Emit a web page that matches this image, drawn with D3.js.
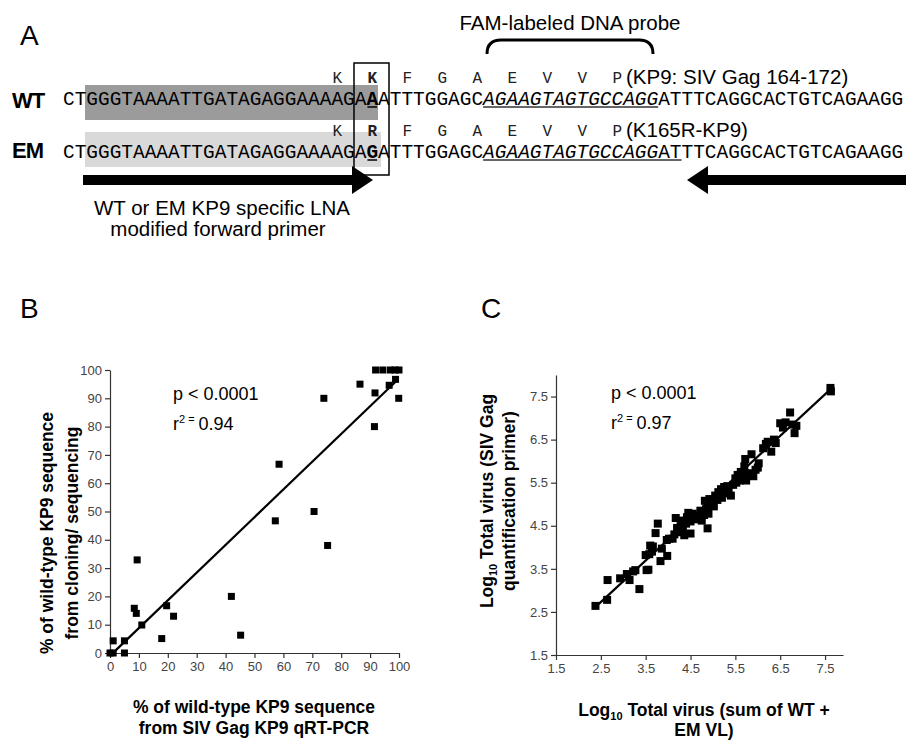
<!DOCTYPE html>
<html>
<head>
<meta charset="utf-8">
<script src="https://cdn.jsdelivr.net/npm/d3@7"></script>
<style>
  body { margin: 0; background: #fff; }
  svg { display: block; }
  text { font-family: "Liberation Sans", Arial, sans-serif; }
  .mono { font-family: "Liberation Mono", "Courier New", monospace; }
  .axis text { font-family: "Liberation Sans", Arial, sans-serif; font-size: 13px; fill: #444; }
  .axis path, .axis line { stroke: #333; stroke-width: 1.2; }
</style>
</head>
<body>
<script>
// ---- panel A sequences
const wtSeq = "CTGGGTAAAATTGATAGAGGAAAAGAAATTTGGAGCAGAAGTAGTGCCAGGATTTCAGGCACTGTCAGAAGG";
const emSeq = "CTGGGTAAAATTGATAGAGGAAAAGAGATTTGGAGCAGAAGTAGTGCCAGGATTTCAGGCACTGTCAGAAGG";
const wtAA = ["K", "K", "F", "G", "A", "E", "V", "V", "P"];
const emAA = ["K", "R", "F", "G", "A", "E", "V", "V", "P"];
const aaIdx = [23, 26, 29, 32, 35, 38, 41, 44, 47];

// ---- panel B: % WT by qRT-PCR (x) vs cloning/sequencing (y)
const bX = [0, 1.1, 1.1, 5, 5, 8.4, 9.1, 9.4, 11, 17.9, 19.6, 22, 42, 45.2, 57.2, 58.5, 70.6, 74, 75.3,
            86.5, 91.5, 91.7, 91.9, 94.4, 96.6, 97, 98.8, 98.6, 100, 99.9];
const bY = [0, 0, 4.3, 4.3, 0, 15.8, 14, 32.9, 9.9, 5.1, 16.7, 13, 20, 6.3, 46.7, 66.7, 50, 90, 38,
            95, 80, 91.9, 100, 100, 94.6, 100, 96.7, 100, 100, 90];
const bFit = [[1.5, 0.5], [99, 96]];
const bTicks = [0, 10, 20, 30, 40, 50, 60, 70, 80, 90, 100];

// ---- panel C: log10 total virus, sum of WT+EM (x) vs SIV Gag primer (y)
const cX = [2.38, 2.64, 2.65, 2.93, 3.08, 3.14, 3.22, 3.27, 3.36, 3.52, 3.56, 3.5, 3.58, 3.6, 3.66, 3.64,
            3.72, 3.77, 3.83, 3.98, 3.86, 3.97, 4.02, 4.1, 4.14, 4.17, 4.2, 4.25, 4.28, 4.3, 4.33, 4.36,
            4.4, 4.42, 4.45, 4.5, 4.5, 4.55, 4.58, 4.62, 4.68, 4.72, 4.75, 4.8, 4.82, 4.85, 4.88, 4.9,
            4.92, 4.95, 5.0, 5.02, 5.05, 5.1, 5.12, 5.18, 5.2, 5.25, 5.28, 5.32, 5.35, 5.4, 5.45, 5.5,
            5.52, 5.55, 5.6, 5.62, 5.68, 5.7, 5.72, 5.74, 5.78, 5.82, 5.86, 5.9, 5.95, 6.0, 6.02, 6.12,
            6.18, 6.22, 6.3, 6.36, 6.4, 6.5, 6.56, 6.62, 6.72, 6.78, 6.82, 6.86, 7.62, 7.63];
const cY = [2.64, 2.78, 3.24, 3.28, 3.38, 3.24, 3.44, 3.47, 3.03, 3.47, 3.48, 3.82, 3.84, 4.04, 4.02, 3.9,
            4.33, 4.55, 3.68, 3.8, 3.97, 4.17, 4.2, 4.2, 4.3, 4.68, 4.45, 4.35, 4.52, 4.62, 4.4, 4.28,
            4.55, 4.7, 4.8, 4.6, 4.32, 4.78, 4.65, 4.72, 4.7, 4.85, 4.62, 4.75, 5.08, 4.9, 4.44, 4.78,
            5.12, 5.0, 5.08, 4.95, 5.2, 5.1, 5.28, 5.35, 5.15, 5.4, 5.25, 5.42, 5.32, 5.2, 5.45, 5.6,
            5.5, 5.68, 5.55, 5.75, 5.6, 5.88, 6.05, 5.55, 5.72, 5.68, 6.16, 5.65, 5.8, 5.85, 5.95, 6.3,
            6.4, 6.45, 6.22, 6.5, 6.42, 6.88, 6.78, 6.9, 7.13, 6.85, 6.65, 6.82, 7.7, 7.62];
const cFit = [[2.45, 2.68], [7.6, 7.65]];
const cTicks = [1.5, 2.5, 3.5, 4.5, 5.5, 6.5, 7.5];

const width = 906, height = 742;
const svg = d3.select("body").append("svg")
    .attr("width", width)
    .attr("height", height);

// ================= Panel A =================
svg.append("text").attr("x", 20).attr("y", 45).attr("font-size", 28).text("A");

const seqX0 = 63, charW = 11.67;
const cx = (i) => seqX0 + i * charW + charW / 2;

// highlighted primer region
svg.append("rect").attr("x", 85).attr("y", 85).attr("width", 293).attr("height", 35).attr("fill", "#9b9b9b");
svg.append("rect").attr("x", 85).attr("y", 132).attr("width", 296).attr("height", 35).attr("fill", "#d9d9d9");

// brace + probe label
svg.append("path")
    .attr("d", "M487,54 Q487,40 501,40 L639,40 Q653,40 653,54")
    .attr("fill", "none").attr("stroke", "#000").attr("stroke-width", 3);
svg.append("text").attr("x", 570).attr("y", 30).attr("text-anchor", "middle")
    .attr("font-size", 20.5).text("FAM-labeled DNA probe");

function drawSeq(seq, baseline, ulEnd) {
    const g = svg.append("g");
    g.selectAll("text").data(seq.split(""))
        .enter().append("text")
        .attr("class", "mono")
        .attr("x", (d, i) => cx(i))
        .attr("y", baseline)
        .attr("text-anchor", "middle")
        .attr("font-size", 19.45)
        .attr("font-weight", (d, i) => i === 26 ? "bold" : "normal")
        .attr("font-style", (d, i) => (i >= 36 && i <= 50) ? "italic" : "normal")
        .text((d) => d);
    // probe underline
    g.append("line")
        .attr("x1", seqX0 + 36 * charW).attr("x2", seqX0 + (ulEnd + 1) * charW)
        .attr("y1", baseline + 2).attr("y2", baseline + 2)
        .attr("stroke", "#333").attr("stroke-width", 1.3);
    // mutated base underline
    g.append("line")
        .attr("x1", seqX0 + 26 * charW + 1).attr("x2", seqX0 + 27 * charW - 1)
        .attr("y1", baseline + 2).attr("y2", baseline + 2)
        .attr("stroke", "#000").attr("stroke-width", 1.5);
}

function drawAA(aa, baseline, note) {
    svg.selectAll(null).data(aa)
        .enter().append("text")
        .attr("class", "mono")
        .attr("x", (d, i) => cx(aaIdx[i]))
        .attr("y", baseline)
        .attr("text-anchor", "middle")
        .attr("font-size", 16)
        .attr("fill", "#222")
        .attr("font-weight", (d, i) => aaIdx[i] === 26 ? "bold" : "normal")
        .text((d) => d);
    svg.append("text").attr("x", 626).attr("y", baseline + 1)
        .attr("font-size", 20.5).text(note);
}

drawAA(wtAA, 83, "(KP9: SIV Gag 164-172)");
drawSeq(wtSeq, 105, 50);
drawAA(emAA, 136, "(K165R-KP9)");
drawSeq(emSeq, 158, 52);

svg.append("text").attr("x", 12).attr("y", 108).attr("font-size", 22).attr("font-weight", "bold")
    .attr("letter-spacing", -1).text("WT");
svg.append("text").attr("x", 12).attr("y", 158).attr("font-size", 22).attr("font-weight", "bold")
    .attr("letter-spacing", -1).text("EM");

// box around mutated codon position
svg.append("rect").attr("x", 354).attr("y", 63).attr("width", 35).attr("height", 112)
    .attr("fill", "none").attr("stroke", "#000").attr("stroke-width", 1.5);

// primers
svg.append("line").attr("x1", 83).attr("x2", 356).attr("y1", 180).attr("y2", 180)
    .attr("stroke", "#000").attr("stroke-width", 10);
svg.append("path").attr("d", "M352,166 L373,180 L352,194 Z").attr("fill", "#000");
svg.append("line").attr("x1", 703).attr("x2", 906).attr("y1", 180).attr("y2", 180)
    .attr("stroke", "#000").attr("stroke-width", 10);
svg.append("path").attr("d", "M708,166 L687,180 L708,194 Z").attr("fill", "#000");

svg.append("text").attr("x", 222).attr("y", 215).attr("text-anchor", "middle")
    .attr("font-size", 20.5).text("WT or EM KP9 specific LNA");
svg.append("text").attr("x", 218).attr("y", 236).attr("text-anchor", "middle")
    .attr("font-size", 20.5).text("modified forward primer");

// ================= Panel B =================
svg.append("text").attr("x", 20).attr("y", 318).attr("font-size", 28).text("B");

const xB = d3.scaleLinear().domain([0, 100]).range([110, 399]);
const yB = d3.scaleLinear().domain([0, 100]).range([653, 370]);

svg.append("g").attr("class", "axis").attr("transform", "translate(0,653)")
    .call(d3.axisBottom(xB).tickValues(bTicks).tickSize(5).tickSizeOuter(0).tickPadding(4));
svg.append("g").attr("class", "axis").attr("transform", "translate(110,0)")
    .call(d3.axisLeft(yB).tickValues(bTicks).tickSize(5).tickSizeOuter(0).tickPadding(3));

svg.append("line")
    .attr("x1", xB(bFit[0][0])).attr("y1", yB(bFit[0][1]))
    .attr("x2", xB(bFit[1][0])).attr("y2", yB(bFit[1][1]))
    .attr("stroke", "#000").attr("stroke-width", 2.2);

svg.append("g").selectAll("rect").data(d3.range(bX.length))
    .enter().append("rect")
    .attr("x", (i) => xB(bX[i]) - 3.5)
    .attr("y", (i) => yB(bY[i]) - 3.5)
    .attr("width", 7).attr("height", 7)
    .attr("fill", "#000");

function statText(x, y, r2) {
    svg.append("text").attr("x", x).attr("y", y).attr("font-size", 18).text("p < 0.0001");
    const t = svg.append("text").attr("x", x).attr("y", y + 30).attr("font-size", 18);
    t.append("tspan").text("r");
    t.append("tspan").attr("font-size", 11).attr("dy", -7).text("2");
    t.append("tspan").attr("font-size", 11).attr("dx", 3).text("=");
    t.append("tspan").attr("dy", 7).attr("dx", 4).text(r2);
}
statText(173, 400, "0.94");

const bYLab = svg.append("text").attr("transform", "translate(53,533) rotate(-90)")
    .attr("text-anchor", "middle").attr("font-size", 17.5).attr("font-weight", "bold");
bYLab.append("tspan").attr("x", 0).attr("y", 0).text("% of wild-type KP9 sequence");
bYLab.append("tspan").attr("x", 0).attr("y", 25).text("from cloning/ sequencing");

svg.append("text").attr("x", 254).attr("y", 713).attr("text-anchor", "middle")
    .attr("font-size", 17.5).attr("font-weight", "bold").text("% of wild-type KP9 sequence");
svg.append("text").attr("x", 254).attr("y", 734).attr("text-anchor", "middle")
    .attr("font-size", 17.5).attr("font-weight", "bold").text("from SIV Gag KP9 qRT-PCR");

// ================= Panel C =================
svg.append("text").attr("x", 481).attr("y", 318).attr("font-size", 28).text("C");

const xC = d3.scaleLinear().domain([1.5, 7.9]).range([556, 843]);
const yC = d3.scaleLinear().domain([1.5, 8.0]).range([655, 375]);

svg.append("g").attr("class", "axis").attr("transform", "translate(0,655)")
    .call(d3.axisBottom(xC).tickValues(cTicks).tickFormat(d3.format(".1f")).tickSize(5).tickSizeOuter(0).tickPadding(4));
svg.append("g").attr("class", "axis").attr("transform", "translate(556,0)")
    .call(d3.axisLeft(yC).tickValues(cTicks).tickFormat(d3.format(".1f")).tickSize(5).tickSizeOuter(0).tickPadding(3));

svg.append("line")
    .attr("x1", xC(cFit[0][0])).attr("y1", yC(cFit[0][1]))
    .attr("x2", xC(cFit[1][0])).attr("y2", yC(cFit[1][1]))
    .attr("stroke", "#000").attr("stroke-width", 2.2);

svg.append("g").selectAll("rect").data(d3.range(cX.length))
    .enter().append("rect")
    .attr("x", (i) => xC(cX[i]) - 4)
    .attr("y", (i) => yC(cY[i]) - 4)
    .attr("width", 8).attr("height", 8)
    .attr("fill", "#000");

statText(611, 399, "0.97");

const cYLab = svg.append("text").attr("transform", "translate(493,501) rotate(-90)")
    .attr("text-anchor", "middle").attr("font-size", 17.5).attr("font-weight", "bold");
const l1 = cYLab.append("tspan").attr("x", 0).attr("y", 0);
l1.append("tspan").text("Log");
l1.append("tspan").attr("font-size", 11).attr("dy", 4).text("10");
l1.append("tspan").attr("dy", -4).text(" Total virus (SIV Gag");
cYLab.append("tspan").attr("x", 0).attr("y", 22).text("quantification primer)");

const cXLab = svg.append("text").attr("x", 704).attr("y", 716).attr("text-anchor", "middle")
    .attr("font-size", 17.5).attr("font-weight", "bold");
cXLab.append("tspan").text("Log");
cXLab.append("tspan").attr("font-size", 11).attr("dy", 4).text("10");
cXLab.append("tspan").attr("dy", -4).text(" Total virus (sum of WT +");
svg.append("text").attr("x", 704).attr("y", 736).attr("text-anchor", "middle")
    .attr("font-size", 17.5).attr("font-weight", "bold").text("EM VL)");
</script>
</body>
</html>
